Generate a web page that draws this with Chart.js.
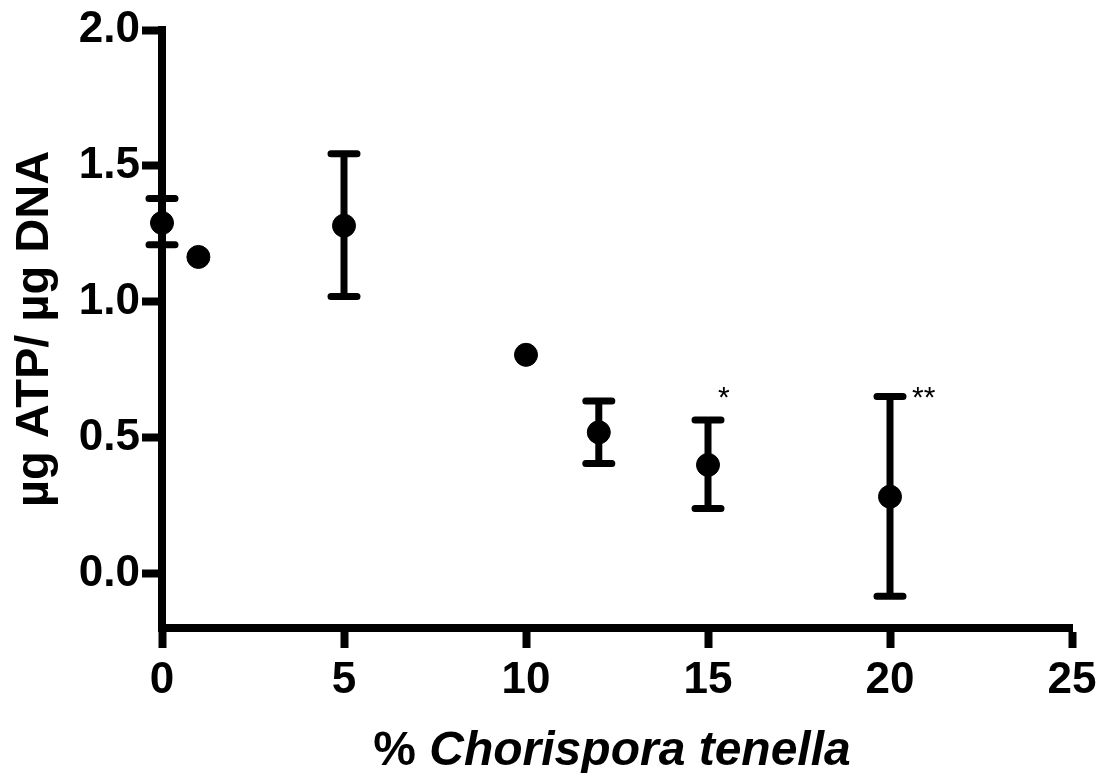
<!DOCTYPE html>
<html>
<head>
<meta charset="utf-8">
<script src="https://cdn.jsdelivr.net/npm/chart.js@4"></script>
<style>
  html, body { margin: 0; padding: 0; background: #fff; }
  #wrap { width: 1096px; height: 773px; position: relative; }
</style>
</head>
<body>
<div id="wrap"><canvas id="atpChart" width="1096" height="773"></canvas></div>
<script>
// data
const doses = [0, 1, 5, 10, 12, 15, 20];
const atpMeans = [1.29, 1.165, 1.28, 0.805, 0.52, 0.40, 0.283];
const errUpper = [1.38, null, 1.545, null, 0.635, 0.565, 0.652];
const errLower = [1.21, null, 1.02, null, 0.405, 0.24, -0.083];
const marks = ['', '', '', '', '', '*', '**'];
const xTicks = [0, 5, 10, 15, 20, 25];
const yTicks = [0, 0.5, 1.0, 1.5, 2.0];

const ink = '#000';
const tickFont = { family: "'Liberation Sans', Arial, sans-serif", size: 44, weight: 'bold' };

const errorBars = {
  id: 'errorBars',
  afterDatasetsDraw(chart) {
    const { ctx, scales: { x, y } } = chart;
    ctx.save();
    ctx.strokeStyle = ink;
    ctx.lineWidth = 7;
    ctx.lineCap = 'round';
    doses.forEach((d, i) => {
      if (errUpper[i] == null) return;
      const px = x.getPixelForValue(d);
      const top = y.getPixelForValue(errUpper[i]);
      const bot = y.getPixelForValue(errLower[i]);
      ctx.beginPath();
      ctx.moveTo(px, top); ctx.lineTo(px, bot);
      ctx.moveTo(px - 13, top); ctx.lineTo(px + 13, top);
      ctx.moveTo(px - 13, bot); ctx.lineTo(px + 13, bot);
      ctx.stroke();
    });
    // significance stars
    ctx.fillStyle = ink;
    ctx.font = "30px 'Liberation Sans', Arial, sans-serif";
    ctx.textAlign = 'left';
    ctx.textBaseline = 'middle';
    doses.forEach((d, i) => {
      if (!marks[i]) return;
      const px = x.getPixelForValue(d) + (marks[i].length > 1 ? 22 : 10);
      ctx.fillText(marks[i], px, y.getPixelForValue(0.645));
    });
    ctx.restore();
  },
  afterDraw(chart) {
    // x-axis title: upright "%" then italic species name
    const { ctx } = chart;
    const a = '% ', b = 'Chorispora tenella';
    const fa = "bold 48px 'Liberation Sans', Arial, sans-serif";
    const fb = "italic bold 48px 'Liberation Sans', Arial, sans-serif";
    ctx.save();
    ctx.fillStyle = ink;
    ctx.textBaseline = 'alphabetic';
    ctx.font = fa; const wa = ctx.measureText(a).width;
    ctx.font = fb; const wb = ctx.measureText(b).width;
    const sx = 612 - (wa + wb) / 2;
    ctx.font = fa; ctx.fillText(a, sx, 765);
    ctx.font = fb; ctx.fillText(b, sx + wa, 765);
    ctx.restore();
  }
};

new Chart(document.getElementById('atpChart'), {
  type: 'scatter',
  data: {
    datasets: [{
      data: doses.map((d, i) => ({ x: d, y: atpMeans[i] })),
      backgroundColor: ink,
      borderColor: ink,
      pointRadius: 11.5,
      pointHoverRadius: 11.5,
      clip: false,
    }],
  },
  options: {
    responsive: false,
    animation: false,
    devicePixelRatio: 1,
    layout: { padding: { top: 30, right: 24, left: 0, bottom: 0 } },
    plugins: { legend: { display: false }, tooltip: { enabled: false } },
    scales: {
      x: {
        type: 'linear',
        min: 0, max: 25,
        afterBuildTicks: s => { s.ticks = xTicks.map(v => ({ value: v })); },
        afterFit: s => { s.height = 145; s.paddingRight = 0; },
        border: { display: true, color: ink, width: 8 },
        grid: { drawOnChartArea: false, drawTicks: true, tickLength: 20, tickWidth: 8, tickColor: ink, color: ink },
        ticks: { color: ink, font: tickFont, padding: 6, maxRotation: 0 },
        title: { display: false },
      },
      y: {
        min: -0.2, max: 2.0,
        afterBuildTicks: s => { s.ticks = yTicks.map(v => ({ value: v })); },
        afterFit: s => { s.width = 162; },
        border: { display: true, color: ink, width: 8 },
        grid: { drawOnChartArea: false, drawTicks: true, tickLength: 20, tickWidth: 8, tickColor: ink, color: ink },
        ticks: { color: ink, font: tickFont, padding: 2, callback: v => Number(v).toFixed(1) },
        title: {
          display: true,
          text: 'µg ATP/ µg DNA',
          color: ink,
          font: { family: "'Liberation Sans', Arial, sans-serif", size: 47, weight: 'bold' },
          padding: { top: 7, bottom: 0 },
        },
      },
    },
  },
  plugins: [errorBars],
});
</script>
</body>
</html>
